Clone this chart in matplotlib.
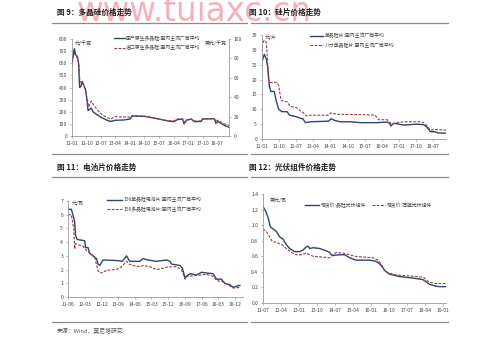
import pandas as pd
import matplotlib
matplotlib.use("Agg")
import matplotlib.pyplot as plt
from matplotlib.lines import Line2D

plt.rcParams['font.family'] = ['Noto Sans CJK SC', 'DejaVu Sans']

# ---------------- 图9 多晶硅 ----------------
p1_cn_dates = ['2011-01-01', '2011-01-25', '2011-02-15', '2011-03-10', '2011-04-15', '2011-05-05',
               '2011-05-25', '2011-06-20', '2011-07-12', '2011-08-10', '2011-09-15', '2011-10-12',
               '2011-11-01', '2011-12-01', '2012-01-01', '2012-02-01', '2012-04-20', '2012-07-20',
               '2012-10-25', '2012-12-28', '2013-04-01', '2013-09-01', '2014-01-01', '2014-02-12',
               '2014-10-01', '2015-03-01', '2015-07-01', '2015-12-01', '2016-04-01', '2016-06-15',
               '2016-09-18', '2016-10-18', '2016-12-01', '2017-03-01', '2017-05-01', '2017-09-01',
               '2017-10-01', '2018-05-12', '2018-06-12', '2018-07-12', '2018-11-18', '2019-02-10']
p1_cn = [580, 680, 720, 670, 650, 600, 400, 410, 450, 420, 380, 290,
         210, 220, 230, 200, 175, 150, 130, 120, 130, 132, 140, 165,
         162, 150, 140, 125, 118, 135, 140, 100, 130, 140, 118, 120,
         140, 142, 105, 120, 88, 72]
p1_im_dates = ['2011-01-01', '2011-01-25', '2011-02-15', '2011-03-10', '2011-04-15', '2011-05-10',
               '2011-05-28', '2011-06-20', '2011-07-12', '2011-08-10', '2011-09-15', '2011-10-15',
               '2011-11-10', '2011-12-01', '2012-01-01', '2012-02-01', '2012-04-20', '2012-07-20',
               '2012-10-25', '2012-12-28', '2013-04-01', '2013-09-01', '2014-01-01', '2014-02-12',
               '2014-10-01', '2015-03-01', '2015-07-01', '2015-12-01', '2016-04-01', '2016-06-15',
               '2016-09-18', '2016-10-18', '2016-12-01', '2017-03-01', '2017-05-01', '2017-09-01',
               '2017-10-01', '2018-05-12', '2018-06-12', '2018-07-12', '2018-11-18', '2019-02-10']
p1_im = [76, 83, 85, 83, 80, 75, 58, 55, 56, 52, 47, 38,
         30, 33, 36, 33, 27, 22, 19, 17.5, 20, 19.5, 19.5, 21,
         20.5, 19, 17.5, 16, 15.5, 17.5, 17.5, 14, 16.5, 17.5, 15.5, 15.5,
         17.8, 18, 15, 16.5, 12.5, 11]
p1_xticks = ['11-01', '11-10', '12-07', '13-04', '14-01', '14-10', '15-07', '16-04', '17-01', '17-10', '18-07']

# ---------------- 图10 硅片 ----------------
p2_mono_dates = ['2011-01-01', '2011-02-06', '2011-03-10', '2011-04-01', '2011-04-28', '2011-05-22',
                 '2011-07-15', '2011-08-15', '2011-09-25', '2011-11-15', '2012-02-05', '2012-03-18',
                 '2012-06-15', '2012-09-05', '2012-10-18', '2012-11-25', '2013-02-12', '2013-12-03',
                 '2014-01-10', '2014-03-18', '2014-06-05', '2014-11-15', '2015-04-25', '2016-01-15',
                 '2016-06-25', '2016-08-05', '2016-08-28', '2016-10-10', '2017-03-18', '2017-10-18',
                 '2018-02-03', '2018-03-25', '2018-05-18', '2018-08-05', '2018-10-01', '2019-02-01']
p2_mono = [26, 28.5, 27, 24.5, 18, 16, 16, 13, 10, 9.2, 9.2, 8,
           7.6, 7, 6.8, 5.5, 5.8, 6, 6.8, 6.2, 5.8, 5.8, 5.5, 5.5,
           5.7, 5.3, 4.4, 5.3, 4.7, 5.0, 4.8, 4.0, 2.5, 2.4, 2.0, 2.0]
p2_8in_dates = ['2011-01-01', '2011-01-28', '2011-03-05', '2011-03-20', '2011-04-15', '2011-05-01',
                '2011-08-28', '2011-09-25', '2011-11-01', '2012-02-05', '2012-03-28', '2012-07-12',
                '2012-09-05', '2012-10-28', '2012-12-10', '2013-02-12', '2013-12-03', '2014-01-10',
                '2014-04-15', '2015-06-15', '2015-12-18', '2016-02-12', '2016-06-25', '2016-07-20',
                '2016-09-12', '2016-12-01', '2017-03-18', '2017-12-10', '2018-02-03', '2018-03-25',
                '2018-05-18', '2018-08-05', '2019-02-01']
p2_8in = [31, 33, 33, 30, 20, 19, 19, 18, 13, 12.5, 11, 10.5,
          9.5, 8.8, 7.8, 8, 8, 8.8, 8.3, 8.2, 8, 6.5, 6.5, 6,
          5, 5.5, 5.8, 5.8, 5.5, 4.5, 3.0, 3.2, 3.0]

# ---------------- 图11 电池片 ----------------
p3_mono_dates = ['2011-06-01', '2011-07-25', '2011-08-20', '2011-09-18', '2011-10-03', '2011-10-28',
                 '2012-03-01', '2012-03-15', '2012-04-25', '2012-05-20', '2012-07-15', '2012-09-10',
                 '2012-10-05', '2012-11-03', '2012-12-28', '2013-09-01', '2013-11-10', '2014-01-15',
                 '2014-03-10', '2014-08-20', '2014-10-15', '2015-01-05', '2015-05-20', '2015-11-03',
                 '2015-12-28', '2016-01-25', '2016-06-10', '2016-07-20', '2016-09-01', '2016-10-05',
                 '2016-12-01', '2017-03-05', '2017-06-01', '2017-08-18', '2017-12-05', '2018-02-01',
                 '2018-04-20', '2018-06-15', '2018-09-05', '2018-11-01', '2018-12-01', '2019-02-18']
p3_mono = [6.4, 6.4, 6.0, 5.5, 4.5, 4.2, 4.1, 3.6, 3.6, 3.2, 3.0, 2.8,
           2.4, 2.3, 2.7, 2.65, 2.6, 3.0, 2.6, 2.6, 2.8, 2.7, 2.6, 2.7,
           2.6, 2.4, 2.3, 2.1, 1.4, 1.55, 1.7, 1.6, 1.8, 1.75, 1.7, 1.3,
           1.3, 1.0, 0.9, 0.7, 0.75, 0.85]
p3_multi_dates = ['2011-06-01', '2011-07-25', '2011-09-03', '2011-09-18', '2011-10-03', '2011-11-12',
                  '2012-02-03', '2012-03-28', '2012-05-20', '2012-08-12', '2012-10-05', '2012-11-03',
                  '2012-12-28', '2013-02-20', '2013-08-03', '2013-10-25', '2014-01-15', '2014-02-28',
                  '2014-05-03', '2014-08-20', '2014-10-15', '2015-02-03', '2015-05-20', '2015-09-10',
                  '2015-12-01', '2016-04-15', '2016-07-05', '2016-09-01', '2016-10-05', '2017-01-12',
                  '2017-05-01', '2017-08-18', '2017-12-05', '2018-02-01', '2018-05-18', '2018-09-05',
                  '2018-11-01', '2019-02-18']
p3_multi = [6.0, 6.0, 5.0, 3.5, 3.9, 3.8, 3.7, 3.4, 3.2, 2.9, 1.9, 1.75,
            1.8, 1.95, 2.0, 2.2, 2.6, 2.4, 2.3, 2.2, 2.3, 2.2, 2.0, 2.1,
            2.2, 2.2, 2.0, 1.3, 1.5, 1.55, 1.6, 1.65, 1.5, 1.2, 1.1, 0.8,
            0.65, 0.7]
p3_xticks = ['11-06', '12-03', '12-12', '13-09', '14-06', '15-03', '15-12', '16-09', '17-06', '18-03', '18-12']

# ---------------- 图12 光伏组件 ----------------
p4_si_dates = ['2011-07-01', '2011-08-10', '2011-09-15', '2011-10-20', '2011-12-01', '2012-01-20',
               '2012-03-10', '2012-05-01', '2012-06-20', '2012-08-10', '2012-10-25', '2013-01-10',
               '2013-03-01', '2013-04-20', '2013-05-15', '2013-06-10', '2013-08-01', '2013-11-10',
               '2014-02-20', '2014-04-10', '2014-05-05', '2014-06-01', '2014-09-10', '2014-11-25',
               '2015-02-10', '2015-05-20', '2015-09-01', '2015-12-10', '2016-02-25', '2016-04-15',
               '2016-06-05', '2016-07-25', '2016-08-20', '2016-10-10', '2016-12-01', '2017-03-10',
               '2017-06-20', '2017-10-01', '2018-03-01', '2018-04-20', '2018-06-10', '2018-08-25',
               '2018-11-10', '2019-02-10']
p4_si = [1.24, 1.18, 1.10, 0.98, 0.95, 0.92, 0.85, 0.82, 0.75, 0.70, 0.66, 0.66,
         0.68, 0.72, 0.73, 0.70, 0.71, 0.70, 0.67, 0.65, 0.62, 0.61, 0.62, 0.62,
         0.58, 0.55, 0.55, 0.55, 0.54, 0.52, 0.48, 0.42, 0.40, 0.37, 0.36, 0.34,
         0.33, 0.32, 0.30, 0.27, 0.24, 0.22, 0.21, 0.21]
p4_film_dates = ['2011-07-01', '2011-08-20', '2011-10-10', '2011-11-20', '2012-01-20', '2012-03-10',
                 '2012-05-01', '2012-06-20', '2012-09-05', '2012-11-20', '2013-02-05', '2013-04-20',
                 '2013-06-10', '2013-08-01', '2014-01-01', '2014-04-10', '2014-06-01', '2014-07-20',
                 '2014-11-01', '2015-02-10', '2015-04-25', '2015-09-01', '2016-02-01', '2016-04-15',
                 '2016-06-05', '2016-07-25', '2016-08-20', '2016-10-10', '2017-01-20', '2017-06-20',
                 '2017-11-20', '2018-03-01', '2018-03-25', '2018-05-15', '2018-07-05', '2018-09-20',
                 '2019-02-10']
p4_film = [0.95, 0.92, 0.85, 0.79, 0.78, 0.76, 0.74, 0.70, 0.65, 0.62, 0.62, 0.64,
           0.62, 0.60, 0.59, 0.58, 0.62, 0.65, 0.64, 0.62, 0.60, 0.59, 0.58, 0.55,
           0.50, 0.42, 0.40, 0.38, 0.36, 0.35, 0.34, 0.33, 0.32, 0.28, 0.26, 0.25,
           0.25]
p4_xticks = ['11-07', '12-04', '13-01', '13-10', '14-07', '15-04', '16-01', '16-10', '17-07', '18-04', '19-01']

SOLID = '#2f4470'
DASH = '#9c3a46'
GRID = '#9a9a9a'
TXT = '#444444'
W, H = 500, 341


def fx(px):
    return px / W


def fy(py):
    return 1 - py / H


def to_dates(lst):
    return pd.to_datetime(lst)


def tick_dates(labels):
    return pd.to_datetime(['20' + s + '-01' for s in labels])


def make_axes(fig, left, top, right, bottom):
    return fig.add_axes([fx(left), fy(bottom), fx(right) - fx(left), fy(top) - fy(bottom)])


def style(ax, xlim, xt, ylim, yticks, yfmt='{:g}'):
    ax.set_xlim(pd.Timestamp(xlim[0]), pd.Timestamp(xlim[1]))
    ax.set_ylim(*ylim)
    ax.set_xticks(tick_dates(xt))
    ax.set_xticklabels(xt)
    ax.set_yticks(yticks)
    ax.set_yticklabels([yfmt.format(v) for v in yticks])
    for s in ['top', 'right']:
        ax.spines[s].set_visible(False)
    for s in ['left', 'bottom']:
        ax.spines[s].set_color(GRID)
        ax.spines[s].set_linewidth(0.6)
    ax.tick_params(axis='both', labelsize=3.6, colors=GRID, labelcolor=TXT,
                   length=1.5, width=0.5, pad=2)
    ax.set_facecolor('none')


fig = plt.figure(figsize=(5, 3.41), dpi=100)

# 水印
fig.text(fx(77), fy(21), 'www.tuiaxc.cn', fontsize=23.5, color='#f4a3ad', alpha=0.85,
         family='DejaVu Sans', va='baseline', ha='left')

# 分隔线
for y in [23, 154, 177, 322]:
    fig.add_artist(Line2D([fx(52), fx(247)], [fy(y), fy(y)], color='#8c8c8c', lw=0.9))
    fig.add_artist(Line2D([fx(251), fx(448)], [fy(y), fy(y)], color='#8c8c8c', lw=0.9))

title_kw = dict(fontsize=5.5, fontweight='bold', color='#222222', va='center', ha='left')
fig.text(fx(57), fy(12), '图 9：多晶硅价格走势', **title_kw)
fig.text(fx(249), fy(12), '图 10：硅片价格走势', **title_kw)
fig.text(fx(57), fy(167), '图 11：电池片价格走势', **title_kw)
fig.text(fx(249), fy(167), '图 12：光伏组件价格走势', **title_kw)

unit_kw = dict(fontsize=3.6, color=TXT, va='center')
leg_kw = dict(frameon=False, fontsize=3.5, borderpad=0, handletextpad=0.3,
              labelspacing=0.9, loc='upper left', labelcolor=TXT)

# 图9
ax1 = make_axes(fig, 72, 39, 229, 136)
ax1.plot(to_dates(p1_cn_dates), p1_cn, color=SOLID, lw=1.0, label='国产原生多晶硅:国内主流厂商平均')
style(ax1, ('2011-01-01', '2019-02-13'), p1_xticks, (0, 800), list(range(0, 801, 100)))
ax1r = ax1.twinx()
ax1r.plot(to_dates(p1_im_dates), p1_im, color=DASH, lw=0.8, dashes=(2.5, 1.3),
          label='进口原生多晶硅:国内主流厂商平均')
ax1r.set_ylim(0, 100)
ax1r.set_yticks(range(0, 101, 20))
for s in ['top', 'left', 'bottom']:
    ax1r.spines[s].set_visible(False)
ax1r.spines['right'].set_color(GRID)
ax1r.spines['right'].set_linewidth(0.6)
ax1r.tick_params(labelsize=3.6, colors=GRID, labelcolor=TXT, length=1.5, width=0.5, pad=2)
fig.text(fx(75), fy(43), '元/千克', **unit_kw)
fig.text(fx(227), fy(43), '美元/千克', ha='right', **unit_kw)
h1 = ax1.get_lines() + ax1r.get_lines()
ax1.legend(h1, [l.get_label() for l in h1], bbox_to_anchor=(fx(112), fy(33)),
           bbox_transform=fig.transFigure, handlelength=2.1, **leg_kw)

# 图10
ax2 = make_axes(fig, 262, 35, 446, 139)
ax2.plot(to_dates(p2_mono_dates), p2_mono, color=SOLID, lw=1.0, label='单晶硅片:国内主流厂商平均')
ax2.plot(to_dates(p2_8in_dates), p2_8in, color=DASH, lw=0.8, dashes=(2.5, 1.3),
         label='八寸单晶硅片:国内主流厂商平均')
style(ax2, ('2011-01-01', '2019-01-25'), p1_xticks, (0, 35), list(range(0, 36, 5)))
fig.text(fx(265), fy(37), '元/片', **unit_kw)
ax2.legend(bbox_to_anchor=(fx(308), fy(31)), bbox_transform=fig.transFigure,
           handlelength=2.6, **leg_kw)

# 图11
ax3 = make_axes(fig, 68, 201, 243, 297)
ax3.plot(to_dates(p3_mono_dates), p3_mono, color=SOLID, lw=1.0, label='156单晶硅电池片:国内主流厂商平均')
ax3.plot(to_dates(p3_multi_dates), p3_multi, color=DASH, lw=0.8, dashes=(2.5, 1.3),
         label='156多晶硅电池片:国内主流厂商平均')
style(ax3, ('2011-06-01', '2019-04-10'), p3_xticks, (0, 7), list(range(0, 8)))
fig.text(fx(72), fy(203), '元/瓦', **unit_kw)
ax3.legend(bbox_to_anchor=(fx(105), fy(195)), bbox_transform=fig.transFigure,
           handlelength=3.0, **leg_kw)

# 图12
ax4 = make_axes(fig, 263, 194, 446, 303)
ax4.plot(to_dates(p4_si_dates), p4_si, color=SOLID, lw=1.0, label='现货价:晶硅光伏组件')
ax4.plot(to_dates(p4_film_dates), p4_film, color=DASH, lw=0.8, dashes=(2.5, 1.3),
         label='现货价:薄膜光伏组件')
style(ax4, ('2011-07-01', '2019-02-15'), p4_xticks, (0, 1.4),
      [0.0, 0.2, 0.4, 0.6, 0.8, 1.0, 1.2, 1.4], yfmt='{:.1f}')
fig.text(fx(270), fy(200), '美元/瓦', **unit_kw)
ax4.legend(bbox_to_anchor=(fx(303), fy(200)), bbox_transform=fig.transFigure,
           handlelength=2.8, ncol=2, columnspacing=1.2, **leg_kw)

fig.text(fx(57), fy(331), '来源：Wind，莫尼塔研究', fontsize=4.2, color='#555555', va='center')

fig.savefig('out.png', dpi=100, facecolor='white')
